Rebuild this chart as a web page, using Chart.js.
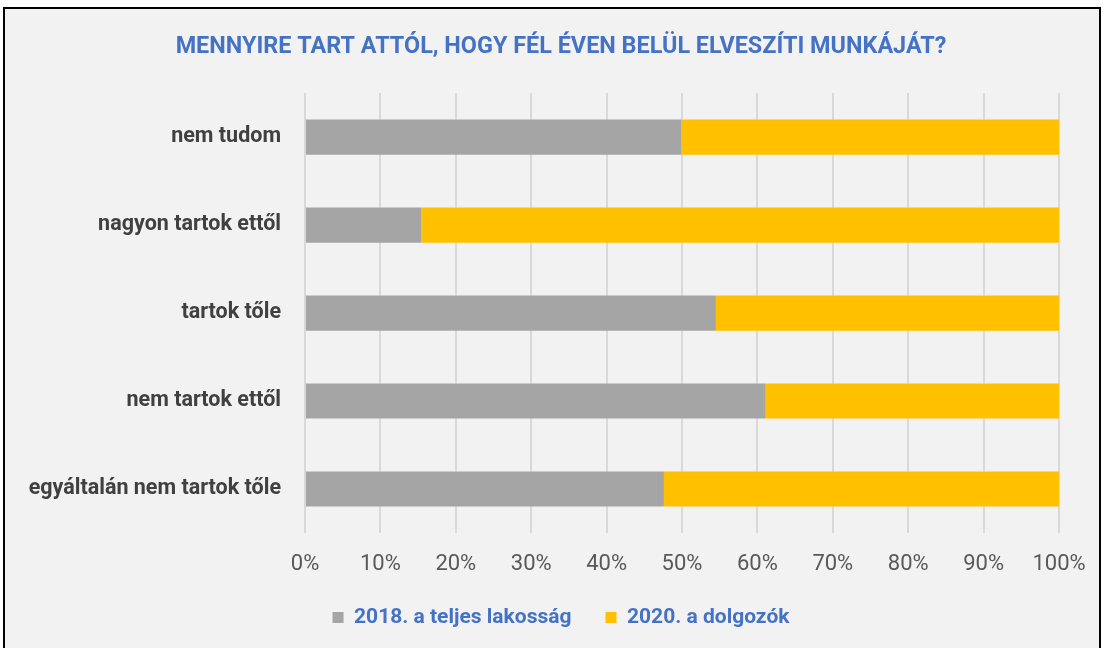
<!DOCTYPE html>
<html>
<head>
<meta charset="utf-8">
<script src="https://cdn.jsdelivr.net/npm/chart.js@4"></script>
<style>
  body { margin: 0; background: #fff; overflow: hidden; }
  #box {
    position: absolute; left: 3px; top: 7px;
    width: 1094px; height: 660px;
    border: 2px solid #000; background: #F2F2F2;
  }
  canvas { display: block; }
</style>
</head>
<body>
<div id="box"><canvas id="chart" width="1094" height="629"></canvas></div>
<script>
const categories = ['nem tudom', 'nagyon tartok ettől', 'tartok tőle', 'nem tartok ettől', 'egyáltalán nem tartok tőle'];
const series2018 = [49.9, 15.4, 54.5, 61.1, 47.6]; // 2018. a teljes lakosság
const series2020 = [50.1, 84.6, 45.5, 38.9, 52.4]; // 2020. a dolgozók
const tickLabels = ['0%', '10%', '20%', '30%', '40%', '50%', '60%', '70%', '80%', '90%', '100%'];

const font = "Roboto, 'Open Sans', sans-serif";

// let the tick labels run past their scale boxes (title/legend stay centred like the original)
const unclipLabels = {
  id: 'unclipLabels',
  afterLayout(chart) {
    chart.scales.y.left = 0;
    chart.scales.x.bottom = chart.height;
  }
};

const ctx = document.getElementById('chart').getContext('2d');
new Chart(ctx, {
  type: 'bar',
  data: {
    labels: categories,
    datasets: [{
      label: '2018. a teljes lakosság',
      data: series2018,
      backgroundColor: '#A5A5A5',
      barPercentage: 0.4,
      categoryPercentage: 1
    }, {
      label: '2020. a dolgozók',
      data: series2020,
      backgroundColor: '#FFC000',
      barPercentage: 0.4,
      categoryPercentage: 1
    }]
  },
  plugins: [unclipLabels],
  options: {
    indexAxis: 'y',
    responsive: false,
    animation: false,
    layout: { padding: { left: 58, right: 40, top: 0, bottom: 0 } },
    plugins: {
      title: {
        display: true,
        text: 'MENNYIRE TART ATTÓL, HOGY FÉL ÉVEN BELÜL ELVESZÍTI MUNKÁJÁT?',
        color: '#4472C4',
        font: { family: font, size: 23.4, weight: 'bold' },
        padding: { top: 24, bottom: 32 }
      },
      legend: {
        position: 'bottom',
        labels: {
          color: '#4472C4',
          font: { family: font, size: 21, weight: 'bold' },
          boxWidth: 11,
          boxHeight: 11,
          padding: 34
        }
      },
      tooltip: { enabled: false }
    },
    scales: {
      x: {
        stacked: true,
        min: 0,
        max: 100,
        border: { display: false },
        grid: { color: '#D9D9D9', lineWidth: 2, drawTicks: false },
        ticks: {
          stepSize: 10,
          padding: 18,
          color: '#595959',
          font: { family: font, size: 22 },
          callback: (v, i) => tickLabels[i]
        },
        afterFit: s => { s.height = 40; s.paddingLeft = 0; s.paddingRight = 0; }
      },
      y: {
        stacked: true,
        border: { display: false },
        grid: { display: false },
        ticks: {
          padding: 16,
          color: '#404040',
          font: { family: font, size: 21.5, weight: 'bold' }
        },
        afterFit: s => { s.width = 242; }
      }
    }
  }
});
</script>
</body>
</html>
